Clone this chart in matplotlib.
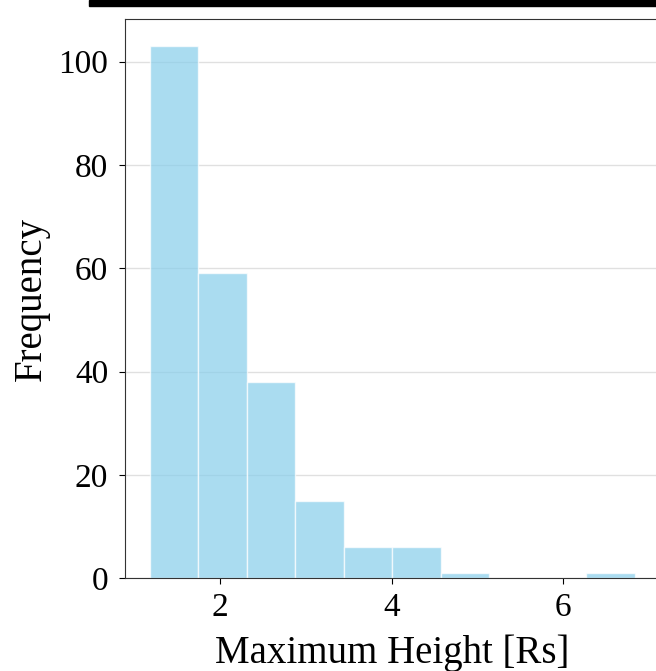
import matplotlib.pyplot as plt
import numpy as np
from matplotlib.patches import Rectangle

# histogram of maximum heights (counts per bin)
bin_edges = np.linspace(1.18, 6.83, 11)
counts = [103, 59, 38, 15, 6, 6, 1, 0, 0, 1]

plt.rcParams['font.family'] = ['Liberation Serif', 'DejaVu Serif']

fig = plt.figure(figsize=(6.56, 6.71), dpi=100)
ax = fig.add_axes([0.1913, 0.1381, 0.813, 0.833])

ax.hist(bin_edges[:-1], bins=bin_edges, weights=counts,
        color='skyblue', alpha=0.7, edgecolor='white', linewidth=1)

ax.set_xticks([2, 4, 6])
ax.set_yticks([0, 20, 40, 60, 80, 100])
ax.tick_params(labelsize=24, length=4.5)
ax.tick_params(axis='x', pad=6)
ax.tick_params(axis='y', pad=8)
ax.grid(axis='y', color='#cccccc', alpha=0.6, linewidth=1)
ax.set_axisbelow(True)
for s in ax.spines.values():
    s.set_color('#333333')

ax.set_xlabel('Maximum Height [Rs]', fontsize=28, labelpad=8)
ax.set_ylabel('Frequency', fontsize=28, labelpad=6)

# thick black line at the top edge of the crop
fig.patches.append(Rectangle((89 / 656, 1 - 6 / 671), 1, 6 / 671,
                             transform=fig.transFigure, color='black'))

fig.savefig('out.png', dpi=100)
